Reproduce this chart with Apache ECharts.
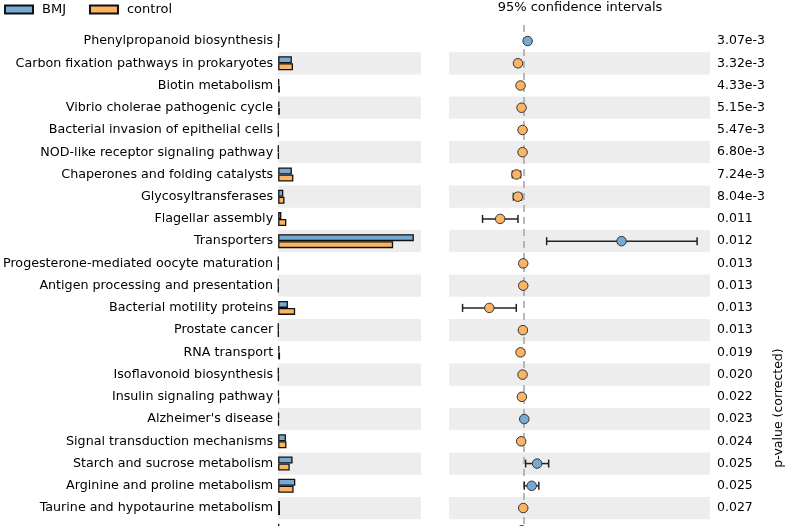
<!DOCTYPE html>
<html>
<head>
<meta charset="utf-8">
<script src="https://cdn.jsdelivr.net/npm/echarts@6/dist/echarts.min.js"></script>
<style>
html,body{margin:0;padding:0;background:#fff;overflow:hidden;}
#chart{width:787px;height:560px;}
</style>
</head>
<body>
<div id="chart"></div>
<script>
var categories = ['Phenylpropanoid biosynthesis','Carbon fixation pathways in prokaryotes','Biotin metabolism','Vibrio cholerae pathogenic cycle','Bacterial invasion of epithelial cells','NOD-like receptor signaling pathway','Chaperones and folding catalysts','Glycosyltransferases','Flagellar assembly','Transporters','Progesterone-mediated oocyte maturation','Antigen processing and presentation','Bacterial motility proteins','Prostate cancer','RNA transport','Isoflavonoid biosynthesis','Insulin signaling pathway',"Alzheimer's disease",'Signal transduction mechanisms','Starch and sucrose metabolism','Arginine and proline metabolism','Taurine and hypotaurine metabolism',''];
var bmj     = [0.20,1.92,0.15,0.18,0.03,0.04,1.92,0.72,0.45,19.0,0.03,0.03,1.37,0.03,0.18,0.04,0.08,0.12,1.09,2.02,2.40,0.25,0.15];
var control = [0.08,2.08,0.24,0.24,0.06,0.07,2.13,0.89,1.14,16.1,0.04,0.04,2.38,0.05,0.27,0.07,0.13,0.10,1.16,1.62,2.16,0.26,0.20];
var diff    = [0.12,-0.165,-0.09,-0.06,-0.03,-0.03,-0.21,-0.17,-0.69,2.89,-0.01,-0.01,-1.01,-0.02,-0.09,-0.03,-0.05,0.02,-0.07,0.40,0.24,-0.01,-0.05];
var ciLow   = [0.08,-0.24,-0.13,-0.10,-0.06,-0.05,-0.33,-0.30,-1.21,0.68,-0.03,-0.03,-1.80,-0.04,-0.12,-0.05,-0.08,-0.01,-0.10,0.06,0.02,-0.03,-0.08];
var ciHigh  = [0.16,-0.09,-0.05,-0.02,0.00,-0.01,-0.09,-0.06,-0.165,5.12,0.01,0.01,-0.215,0.00,-0.06,-0.01,-0.02,0.05,-0.04,0.74,0.45,0.01,-0.02];
var pvals   = ['3.07e-3','3.32e-3','4.33e-3','5.15e-3','5.47e-3','6.80e-3','7.24e-3','8.04e-3','0.011','0.012','0.013','0.013','0.013','0.013','0.019','0.020','0.022','0.023','0.024','0.025','0.025','0.027',''];

var BLUE = '#77a9d5', ORANGE = '#fdb462', BAND = '#ededed';
var FONT = 'DejaVu Sans';

var chart = echarts.init(document.getElementById('chart'), null, {renderer:'canvas'});

var scatterData = diff.map(function(d,i){ return [d, i]; });
var errData = ciLow.map(function(l,i){ return [l, i, ciHigh[i]]; });

var option = {
  animation: false,
  legend: {
    left: 4, top: 3, padding: 0, icon: 'rect', itemWidth: 28, itemHeight: 8, itemGap: 23,
    textStyle: {fontFamily: FONT, fontSize: 13, color: '#000', padding: [0,0,0,4]},
    data: ['BMJ','control']
  },
  graphic: [
    {type:'text', x: 580, y: 8, style:{text:'95% confidence intervals', font:'13px "DejaVu Sans"', fill:'#000', align:'center', verticalAlign:'middle'}},
    {type:'text', x: 779, y: 408, rotation: Math.PI/2, style:{text:'p-value (corrected)', font:'12.5px "DejaVu Sans"', fill:'#000', align:'center', verticalAlign:'middle'}}
  ],
  grid: [
    {left: 277.5, width: 143.5, top: 29.9, height: 511.5},
    {left: 449, width: 261, top: 29.9, height: 511.5}
  ],
  xAxis: [
    {gridIndex:0, type:'value', min:0, max:20, show:false},
    {gridIndex:1, type:'value', min:-2.2, max:5.5, show:false}
  ],
  yAxis: [
    {gridIndex:0, type:'category', inverse:true, data:categories,
     axisLine:{show:false}, axisTick:{show:false},
     axisLabel:{fontFamily:FONT, fontSize:12.7, color:'#000', margin:5},
     splitArea:{show:true, areaStyle:{color:['rgba(255,255,255,0)', BAND]}}},
    {gridIndex:1, type:'category', inverse:true, data:pvals, position:'right',
     axisLine:{show:false}, axisTick:{show:false},
     axisLabel:{fontFamily:FONT, fontSize:12.5, color:'#000', margin:7},
     splitArea:{show:true, areaStyle:{color:['rgba(255,255,255,0)', BAND]}}}
  ],
  series: [
    {name:'BMJ', type:'bar', xAxisIndex:0, yAxisIndex:0, data:bmj, barWidth:7, barGap:'0%',
     itemStyle:{color:BLUE, borderColor:'#111', borderWidth:1.3}},
    {name:'control', type:'bar', xAxisIndex:0, yAxisIndex:0, data:control, barWidth:7, barGap:'0%',
     itemStyle:{color:ORANGE, borderColor:'#111', borderWidth:1.3}},
    {type:'custom', xAxisIndex:1, yAxisIndex:1, z:2, data:errData,
     renderItem:function(params, api){
       var idx = api.value(1);
       var p0 = api.coord([api.value(0), idx]);
       var p1 = api.coord([api.value(2), idx]);
       var y = p0[1], h = 4;
       var st = {stroke:'#222', lineWidth:1.5};
       return {type:'group', children:[
         {type:'line', shape:{x1:p0[0], y1:y, x2:p1[0], y2:y}, style:st},
         {type:'line', shape:{x1:p0[0], y1:y-h, x2:p0[0], y2:y+h}, style:st},
         {type:'line', shape:{x1:p1[0], y1:y-h, x2:p1[0], y2:y+h}, style:st}
       ]};
     }
    },
    {type:'scatter', xAxisIndex:1, yAxisIndex:1, z:5, data:scatterData, symbolSize:9.5,
     itemStyle:{
       color:function(p){ return p.value[0] > 0 ? BLUE : ORANGE; },
       borderColor:'#333', borderWidth:1, opacity:1},
     markLine:{silent:true, symbol:'none', label:{show:false}, z:1,
       lineStyle:{type:[7,5], color:'#a8a8a8', width:1.6},
       data:[[{xAxis:0, y:25}, {xAxis:0, y:560}]]}
    }
  ]
};
chart.setOption(option);
</script>
</body>
</html>
